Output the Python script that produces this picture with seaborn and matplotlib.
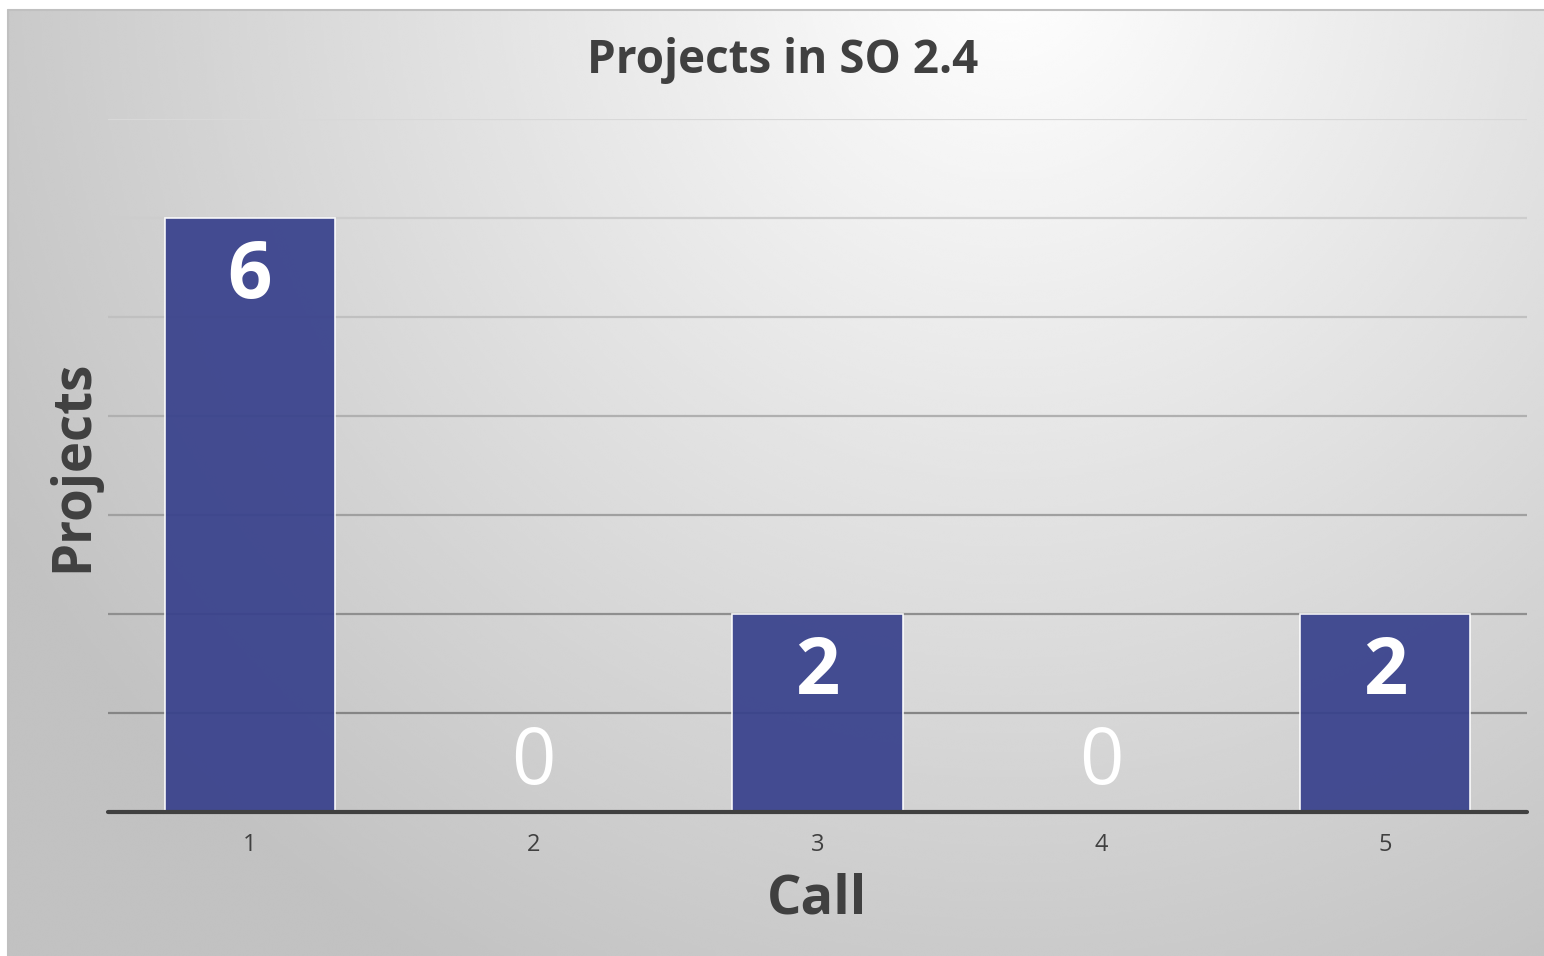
import numpy as np
import pandas as pd
import matplotlib
matplotlib.use('Agg')
import matplotlib.pyplot as plt
import seaborn as sns

# chart values
calls = ['1', '2', '3', '4', '5']
projects = [6, 0, 2, 0, 2]
yTicks = [0, 1, 2, 3, 4, 5, 6, 7]

titleText = 'Projects in SO 2.4'
xLabel = 'Call'
yLabel = 'Projects'

sns.set_theme(style='white')
plt.rcParams['font.family'] = ['Open Sans', 'DejaVu Sans']

textColor = '#404040'
barColor = '#38418c'

df = pd.DataFrame({'call': calls, 'projects': projects})

W, H = 1544, 956
fig = plt.figure(figsize=(W / 100, H / 100), dpi=100)
fig.patch.set_facecolor('white')

# gradient background of the chart area
bgLeft, bgTop = 8, 10
bgAx = fig.add_axes([bgLeft / W, 0, 1 - bgLeft / W, 1 - bgTop / H])
gx = np.linspace(0, W - bgLeft, 600)
gy = np.linspace(0, H - bgTop, 400)
XX, YY = np.meshgrid(gx, gy)
rr = np.sqrt(((XX - 1000) / 1150) ** 2 + ((YY + 40) / 1150) ** 2)
shade = np.clip(1.0 - 0.24 * rr, 0.76, 1.0)
bgAx.imshow(shade, cmap='gray', vmin=0, vmax=1, aspect='auto', extent=[0, 1, 0, 1],
            origin='upper', interpolation='bicubic')
bgAx.set_axis_off()
fig.add_artist(plt.Line2D([bgLeft / W, 1], [1 - bgTop / H, 1 - bgTop / H], color='#c0c0c0', lw=1.5))
fig.add_artist(plt.Line2D([bgLeft / W, bgLeft / W], [0, 1 - bgTop / H], color='#c0c0c0', lw=1.5))

ax = fig.add_axes([108 / W, 1 - 812 / H, (1527 - 108) / W, (812 - 119) / H])
ax.set_facecolor('none')

# gridlines, darker towards the bottom
gridColors = ['#858585', '#8f8f8f', '#a0a0a0', '#b0b0b0', '#c0c0c0', '#cdcdcd', '#d8d8d8']
for level, gc in zip(yTicks[1:], gridColors):
    ax.axhline(level, color=gc, lw=1.6, zorder=0)

sns.barplot(data=df, x='call', y='projects', color=barColor, saturation=1, width=0.6,
            edgecolor='white', linewidth=1.2, alpha=0.93, ax=ax, zorder=2)

ax.axhline(0, color='#404040', lw=3, zorder=3, clip_on=False)
ax.set_ylim(yTicks[0], yTicks[-1])
ax.set_xlim(-0.5, len(calls) - 0.5)
ax.set_yticks(yTicks)
ax.set_yticklabels([])
ax.tick_params(axis='y', length=0)
ax.tick_params(axis='x', length=0, pad=15, labelsize=17, labelcolor=textColor)
for s in ax.spines.values():
    s.set_visible(False)
ax.set_xlabel('')
ax.set_ylabel('')

# data labels
for i, v in enumerate(projects):
    if v > 0:
        ax.annotate(str(v), (i, v), xytext=(0, -43), textcoords='offset points',
                    ha='center', va='center', color='white', fontsize=56, fontweight='bold', zorder=4)
    else:
        ax.annotate(str(v), (i, v), xytext=(0, 35), textcoords='offset points',
                    ha='center', va='center', color='white', fontsize=56, zorder=4)

fig.text(783 / W, 1 - 61 / H, titleText, ha='center', va='center', fontsize=33,
         fontweight='bold', color=textColor)
fig.text(817 / W, 1 - 899 / H, xLabel, ha='center', va='center', fontsize=39,
         fontweight='bold', color=textColor)
fig.text(73 / W, 1 - 466 / H, yLabel, ha='center', va='center', fontsize=38,
         fontweight='bold', color=textColor, rotation=90)

fig.savefig('out.png', dpi=100)
